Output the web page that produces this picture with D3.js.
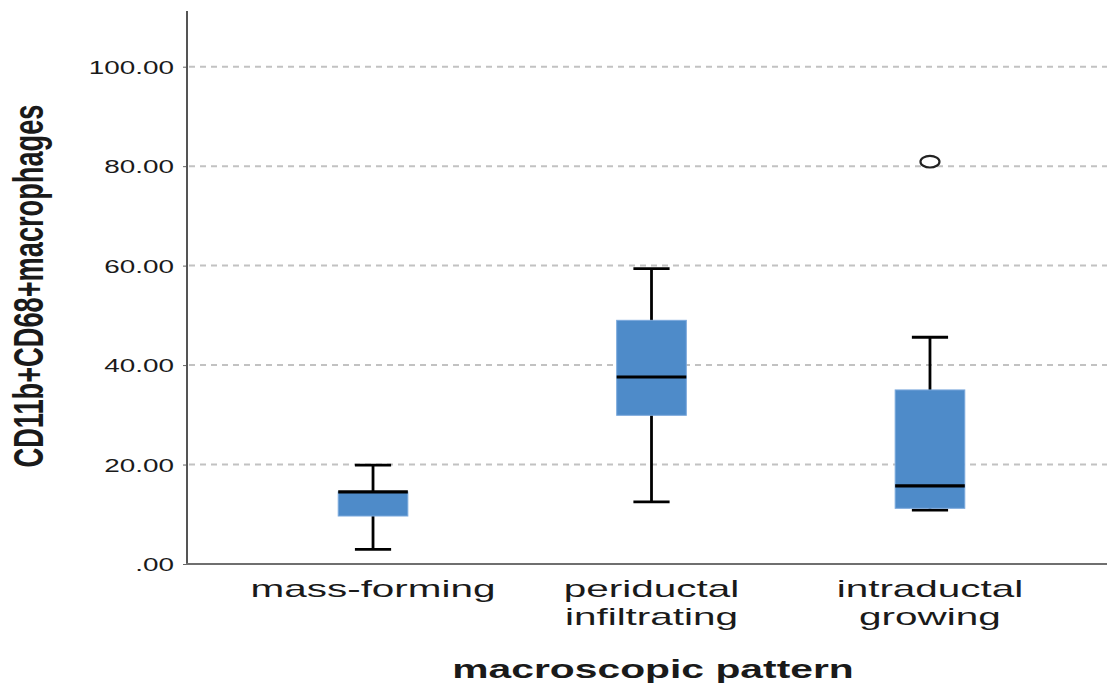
<!DOCTYPE html>
<html>
<head>
<meta charset="utf-8">
<script src="https://cdn.jsdelivr.net/npm/d3@7"></script>
<style>
  body { margin: 0; background: #fff; }
  text { font-family: Arial, "Liberation Sans", sans-serif; fill: #1a1a1a; }
</style>
</head>
<body>
<svg id="chart"></svg>
<script>
// Data.
var categories = ["mass-forming", "periductal infiltrating", "intraductal growing"];
var catLines = [["mass-forming"], ["periductal", "infiltrating"], ["intraductal", "growing"]];
var whiskerLow = [2.95, 12.5, 10.85];
var q1 = [9.65, 29.9, 11.2];
var median = [14.5, 37.6, 15.7];
var q3 = [14.5, 49.0, 35.0];
var whiskerHigh = [19.9, 59.4, 45.6];
var outliers = [[], [], [80.9]];
var yTicks = [0, 20, 40, 60, 80, 100];

var W = 1107, H = 688;
var SX = 1.6; // the picture is stretched sideways, so is its text

var svg = d3.select("#chart").attr("width", W).attr("height", H);

var x = d3.scalePoint().domain(categories).range([187, 1116]).padding(0.668);
var y = d3.scaleLinear().domain([0, 111.2]).range([564, 11]);
var boxW = x.step() * 0.25;
var capW = boxW * 0.52;

var rows = categories.map(function(c, i) {
  return { cat: c, lo: whiskerLow[i], q1: q1[i], med: median[i], q3: q3[i], hi: whiskerHigh[i], out: outliers[i] };
});

// gridlines
svg.append("g").selectAll("line")
  .data(yTicks.filter(function(d) { return d > 0; }))
  .enter().append("line")
  .attr("x1", 189).attr("x2", W)
  .attr("y1", function(d) { return y(d); })
  .attr("y2", function(d) { return y(d); })
  .attr("stroke", "#c2c2c2")
  .attr("stroke-width", 2)
  .attr("stroke-dasharray", "6,5");

// y axis
var yAxis = svg.append("g")
  .attr("transform", "translate(187,0)")
  .call(d3.axisLeft(y).tickValues(yTicks).tickSize(4).tickFormat(function(d) {
    return d === 0 ? ".00" : d3.format(".2f")(d);
  }));
yAxis.select(".domain").remove();
yAxis.selectAll(".tick line").attr("stroke", "#666");
yAxis.selectAll(".tick text")
  .attr("x", null).attr("dy", null)
  .attr("font-size", 18)
  .attr("text-anchor", "end")
  .attr("transform", "translate(-13,6.5) scale(1.55,1)");

svg.append("line")
  .attr("x1", 187).attr("x2", 187).attr("y1", 11).attr("y2", 565)
  .attr("stroke", "#555").attr("stroke-width", 2);
svg.append("line")
  .attr("x1", 186).attr("x2", W).attr("y1", 564).attr("y2", 564)
  .attr("stroke", "#6f6f6f").attr("stroke-width", 2);

// boxes
var g = svg.append("g").selectAll("g")
  .data(rows).enter().append("g")
  .attr("transform", function(d) { return "translate(" + x(d.cat) + ",0)"; });

g.append("line")
  .attr("x1", 0).attr("x2", 0)
  .attr("y1", function(d) { return y(d.hi); })
  .attr("y2", function(d) { return y(d.lo); })
  .attr("stroke", "#000").attr("stroke-width", 2.8);

g.selectAll(".cap")
  .data(function(d) { return [d.lo, d.hi]; })
  .enter().append("line")
  .attr("x1", -capW / 2).attr("x2", capW / 2)
  .attr("y1", function(v) { return y(v); })
  .attr("y2", function(v) { return y(v); })
  .attr("stroke", "#000").attr("stroke-width", 2.8);

g.append("rect")
  .attr("x", -boxW / 2).attr("width", boxW)
  .attr("y", function(d) { return y(d.q3); })
  .attr("height", function(d) { return y(d.q1) - y(d.q3); })
  .attr("fill", "#4e8bc9")
  .attr("stroke", "#7aa8dc").attr("stroke-width", 1);

g.append("line")
  .attr("x1", -boxW / 2).attr("x2", boxW / 2)
  .attr("y1", function(d) { return y(d.med); })
  .attr("y2", function(d) { return y(d.med); })
  .attr("stroke", "#000").attr("stroke-width", 3.2);

g.selectAll(".out")
  .data(function(d) { return d.out; })
  .enter().append("ellipse")
  .attr("cx", 0).attr("cy", function(v) { return y(v); })
  .attr("rx", 9.5).attr("ry", 5.8)
  .attr("fill", "#fff").attr("stroke", "#222").attr("stroke-width", 2.2);

// category labels
var lab = svg.append("g").selectAll("text")
  .data(categories).enter().append("text")
  .attr("font-size", 23)
  .attr("text-anchor", "middle")
  .attr("transform", function(d) { return "translate(" + x(d) + ",597) scale(1.76,1)"; });
lab.selectAll("tspan")
  .data(function(d, i) { return catLines[i]; })
  .enter().append("tspan")
  .attr("x", 0)
  .attr("dy", function(d, i) { return i === 0 ? 0 : 28; })
  .text(function(d) { return d; });

// axis titles
svg.append("text")
  .attr("font-size", 26).attr("font-weight", "bold")
  .attr("text-anchor", "middle")
  .attr("transform", "translate(653,678) scale(1.57,1)")
  .text("macroscopic pattern");

svg.append("text")
  .attr("font-size", 26).attr("font-weight", "bold")
  .attr("text-anchor", "middle")
  .attr("textLength", 363).attr("lengthAdjust", "spacingAndGlyphs")
  .attr("transform", "translate(43,286) scale(" + SX + ",1) rotate(-90)")
  .text("CD11b+CD68+macrophages");
</script>
</body>
</html>
